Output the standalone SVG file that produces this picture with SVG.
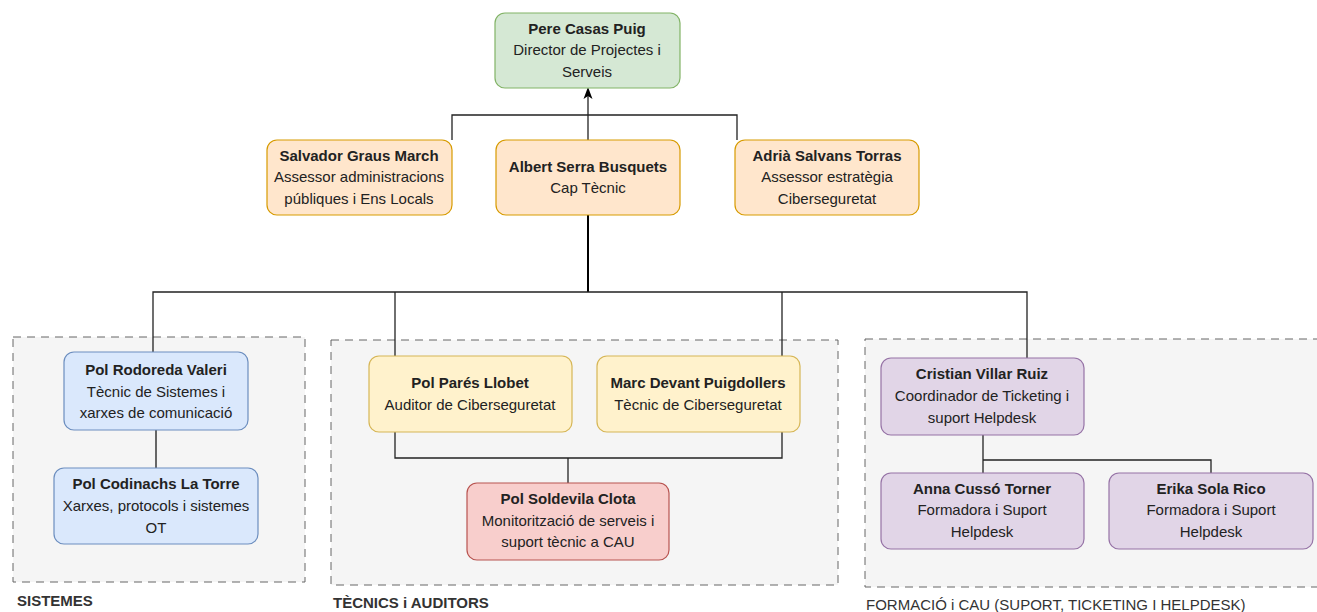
<svg xmlns="http://www.w3.org/2000/svg" width="1317" height="612" viewBox="0 0 1317 612">
<style>
  text { font-family: "Liberation Sans", Arial, sans-serif; font-size: 15px; fill: #222; text-anchor: middle; }
  .b { font-weight: bold; }
  .grp { fill: #f5f5f5; stroke: #666; stroke-width: 1; stroke-dasharray: 8 6; }
  .lbl { font-size: 15px; text-anchor: start; fill: #333; }
  .green { fill: #d5e8d4; stroke: #82b366; }
  .orange { fill: #ffe6cc; stroke: #d79b00; }
  .blue { fill: #dae8fc; stroke: #6c8ebf; }
  .yellow { fill: #fff2cc; stroke: #d6b656; }
  .red { fill: #f8cecc; stroke: #b85450; }
  .purple { fill: #e1d5e7; stroke: #9673a6; }
  rect.n { stroke-width: 1.2; }
  .c { fill: none; stroke: #222; stroke-width: 1.3; }
</style>
<defs>
  <marker id="arr" markerWidth="12" markerHeight="12" refX="6" refY="6" orient="auto" markerUnits="userSpaceOnUse">
    <path d="M0,1.5 L12,6 L0,10.5 L3,6 Z" fill="#000"/>
  </marker>
</defs>

<g id="groups">
  <g id="grp-sistemes">
    <rect class="grp" x="13" y="337" width="292" height="245"/>
    <text class="lbl b" x="17" y="606">SISTEMES</text>
  </g>
  <g id="grp-tecnics">
    <rect class="grp" x="331" y="340" width="507" height="245"/>
    <text class="lbl b" x="333" y="608">TÈCNICS i AUDITORS</text>
  </g>
  <g id="grp-formacio">
    <rect class="grp" x="865" y="339" width="460" height="248"/>
    <text class="lbl" x="866" y="610">FORMACIÓ i CAU (SUPORT, TICKETING I HELPDESK)</text>
  </g>
</g>

<g id="connectors">
  <path class="c" d="M588,140 L588,93" stroke-width="2" marker-end="url(#arr)"/>
  <path class="c" d="M452,140 L452,115 L737,115 L737,140"/>
  <path class="c" d="M588,215 L588,292" style="stroke:#000;stroke-width:2"/>
  <path class="c" d="M153,352 L153,292 L1027,292 L1027,358"/>
  <path class="c" d="M395,292 L395,356"/>
  <path class="c" d="M782,292 L782,356"/>
  <path class="c" d="M156,430 L156,468" style="stroke:#666;stroke-width:2"/>
  <path class="c" d="M395,432 L395,458 L782,458 L782,432"/>
  <path class="c" d="M568,458 L568,483"/>
  <path class="c" d="M983,435 L983,473"/>
  <path class="c" d="M983,460 L1211,460 L1211,473"/>
</g>

<g id="n-pere">
  <rect class="n green" x="495" y="13" width="185" height="75" rx="10"/>
  <text class="b" x="587" y="34">Pere Casas Puig</text>
  <text x="587" y="55">Director de Projectes i</text>
  <text x="587" y="77">Serveis</text>
</g>
<g id="n-salvador">
  <rect class="n orange" x="267" y="140" width="185" height="75" rx="10"/>
  <text class="b" x="359" y="161">Salvador Graus March</text>
  <text x="359" y="182">Assessor administracions</text>
  <text x="359" y="204">públiques i Ens Locals</text>
</g>
<g id="n-albert">
  <rect class="n orange" x="496" y="140" width="184" height="75" rx="10"/>
  <text class="b" x="588" y="172">Albert Serra Busquets</text>
  <text x="588" y="193">Cap Tècnic</text>
</g>
<g id="n-adria">
  <rect class="n orange" x="735" y="140" width="184" height="75" rx="10"/>
  <text class="b" x="827" y="161">Adrià Salvans Torras</text>
  <text x="827" y="182">Assessor estratègia</text>
  <text x="827" y="204">Ciberseguretat</text>
</g>
<g id="n-rodoreda">
  <rect class="n blue" x="64" y="352" width="184" height="78" rx="10"/>
  <text class="b" x="156" y="375">Pol Rodoreda Valeri</text>
  <text x="156" y="397">Tècnic de Sistemes i</text>
  <text x="156" y="418">xarxes de comunicació</text>
</g>
<g id="n-codinachs">
  <rect class="n blue" x="54" y="468" width="204" height="76" rx="10"/>
  <text class="b" x="156" y="489">Pol Codinachs La Torre</text>
  <text x="156" y="511">Xarxes, protocols i sistemes</text>
  <text x="156" y="533">OT</text>
</g>
<g id="n-pares">
  <rect class="n yellow" x="369" y="356" width="203" height="76" rx="10"/>
  <text class="b" x="470" y="388">Pol Parés Llobet</text>
  <text x="470" y="410">Auditor de Ciberseguretat</text>
</g>
<g id="n-marc">
  <rect class="n yellow" x="597" y="356" width="203" height="76" rx="10"/>
  <text class="b" x="698" y="388">Marc Devant Puigdollers</text>
  <text x="698" y="410">Tècnic de Ciberseguretat</text>
</g>
<g id="n-soldevila">
  <rect class="n red" x="467" y="483" width="202" height="77" rx="10"/>
  <text class="b" x="568" y="504">Pol Soldevila Clota</text>
  <text x="568" y="526">Monitorització de serveis i</text>
  <text x="568" y="547">suport tècnic a CAU</text>
</g>
<g id="n-cristian">
  <rect class="n purple" x="881" y="358" width="203" height="77" rx="10"/>
  <text class="b" x="982" y="379">Cristian Villar Ruiz</text>
  <text x="982" y="401">Coordinador de Ticketing i</text>
  <text x="982" y="423">suport Helpdesk</text>
</g>
<g id="n-anna">
  <rect class="n purple" x="881" y="473" width="203" height="76" rx="10"/>
  <text class="b" x="982" y="494">Anna Cussó Torner</text>
  <text x="982" y="515">Formadora i Suport</text>
  <text x="982" y="537">Helpdesk</text>
</g>
<g id="n-erika">
  <rect class="n purple" x="1109" y="473" width="204" height="76" rx="10"/>
  <text class="b" x="1211" y="494">Erika Sola Rico</text>
  <text x="1211" y="515">Formadora i Suport</text>
  <text x="1211" y="537">Helpdesk</text>
</g>
</svg>
